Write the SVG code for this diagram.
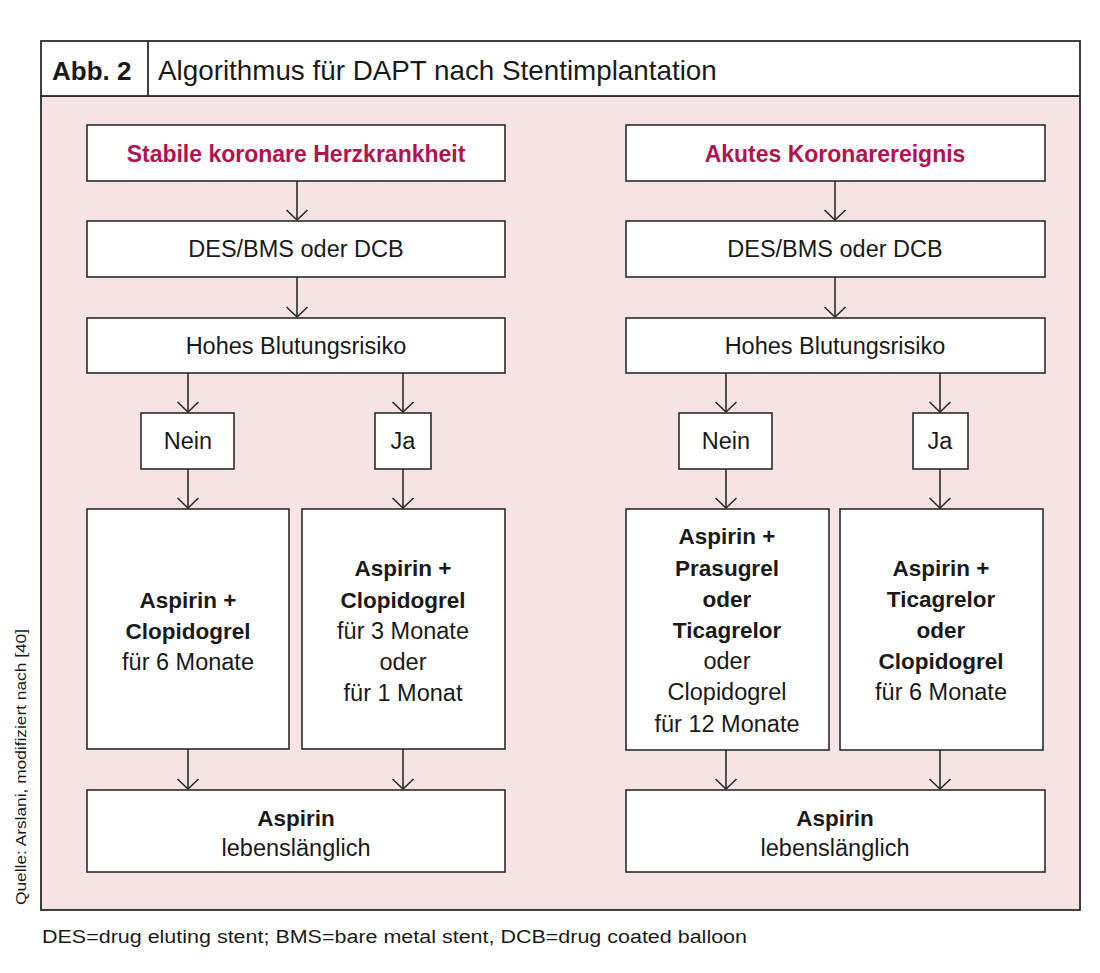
<svg xmlns="http://www.w3.org/2000/svg" width="1100" height="973" viewBox="0 0 1100 973">
<defs>
<style>
.box{fill:#fff;stroke:#2b2b2b;stroke-width:1.6}
.frame{stroke:#2b2b2b;stroke-width:1.8}
.t{font-family:"Liberation Sans",Arial,sans-serif;font-size:23.5px;fill:#1a1a1a;text-anchor:middle}
.b{font-weight:bold;font-size:22.5px}
.h{font-family:"Liberation Sans",Arial,sans-serif;font-size:23px;font-weight:bold;fill:#b3124f;text-anchor:middle}
.c line{stroke:#2b2b2b;stroke-width:1.6;fill:none}
</style>
<marker id="ah" viewBox="0 0 12 24" refX="11" refY="12" markerWidth="12" markerHeight="24" markerUnits="userSpaceOnUse" orient="auto">
<polyline points="1,1.5 11,12 1,22.5" fill="none" stroke="#2b2b2b" stroke-width="1.6"/>
</marker>
</defs>
<rect width="1100" height="973" fill="#fff"/>
<g id="frame">
<rect x="41" y="96" width="1039" height="814" fill="#f6e4e5" class="frame"/>
<rect x="41" y="41" width="1039" height="55" fill="#fff" class="frame"/>
<line x1="148" y1="41" x2="148" y2="96" class="frame"/>
<text x="52" y="80" font-family="Liberation Sans,Arial,sans-serif" font-size="26" font-weight="bold" fill="#1a1a1a">Abb. 2</text>
<text x="158" y="80" font-family="Liberation Sans,Arial,sans-serif" font-size="27.8" fill="#1a1a1a">Algorithmus für DAPT nach Stentimplantation</text>
</g>
<g class="c" id="connectors">
<line x1="297" y1="181" x2="297" y2="220" marker-end="url(#ah)"/>
<line x1="297" y1="277" x2="297" y2="317" marker-end="url(#ah)"/>
<line x1="188" y1="373" x2="188" y2="412" marker-end="url(#ah)"/>
<line x1="403" y1="373" x2="403" y2="412" marker-end="url(#ah)"/>
<line x1="188" y1="469" x2="188" y2="508" marker-end="url(#ah)"/>
<line x1="403" y1="469" x2="403" y2="508" marker-end="url(#ah)"/>
<line x1="188" y1="749" x2="188" y2="789" marker-end="url(#ah)"/>
<line x1="403" y1="749" x2="403" y2="789" marker-end="url(#ah)"/>
<line x1="835" y1="181" x2="835" y2="220" marker-end="url(#ah)"/>
<line x1="835" y1="277" x2="835" y2="317" marker-end="url(#ah)"/>
<line x1="726" y1="373" x2="726" y2="412" marker-end="url(#ah)"/>
<line x1="940" y1="373" x2="940" y2="412" marker-end="url(#ah)"/>
<line x1="726" y1="469" x2="726" y2="508" marker-end="url(#ah)"/>
<line x1="940" y1="469" x2="940" y2="508" marker-end="url(#ah)"/>
<line x1="726" y1="750" x2="726" y2="789" marker-end="url(#ah)"/>
<line x1="940" y1="750" x2="940" y2="789" marker-end="url(#ah)"/>
</g>
<g id="l-start"><rect class="box" x="87" y="125" width="418" height="56"/><text class="h" x="296" y="162">Stabile koronare Herzkrankheit</text></g>
<g id="l-stent"><rect class="box" x="87" y="221" width="418" height="56"/><text class="t" x="296" y="257">DES/BMS oder DCB</text></g>
<g id="l-risk"><rect class="box" x="87" y="318" width="418" height="55"/><text class="t" x="296" y="354">Hohes Blutungsrisiko</text></g>
<g id="l-nein"><rect class="box" x="141" y="413" width="93" height="56"/><text class="t" x="188" y="449">Nein</text></g>
<g id="l-ja"><rect class="box" x="375" y="413" width="56" height="56"/><text class="t" x="403" y="449">Ja</text></g>
<g id="l-nein-therapy"><rect class="box" x="87" y="509" width="202" height="240"/>
<text class="t b" x="188" y="608">Aspirin +</text><text class="t b" x="188" y="639">Clopidogrel</text><text class="t" x="188" y="670">für 6 Monate</text></g>
<g id="l-ja-therapy"><rect class="box" x="302" y="509" width="203" height="240"/>
<text class="t b" x="403" y="576">Aspirin +</text><text class="t b" x="403" y="608">Clopidogrel</text><text class="t" x="403" y="639">für 3 Monate</text><text class="t" x="403" y="670">oder</text><text class="t" x="403" y="701">für 1 Monat</text></g>
<g id="l-end"><rect class="box" x="87" y="790" width="418" height="82"/><text class="t b" x="296" y="826">Aspirin</text><text class="t" x="296" y="856">lebenslänglich</text></g>
<g id="r-start"><rect class="box" x="626" y="125" width="419" height="56"/><text class="h" x="835" y="162">Akutes Koronarereignis</text></g>
<g id="r-stent"><rect class="box" x="626" y="221" width="419" height="56"/><text class="t" x="835" y="257">DES/BMS oder DCB</text></g>
<g id="r-risk"><rect class="box" x="626" y="318" width="419" height="55"/><text class="t" x="835" y="354">Hohes Blutungsrisiko</text></g>
<g id="r-nein"><rect class="box" x="679" y="413" width="93" height="56"/><text class="t" x="726" y="449">Nein</text></g>
<g id="r-ja"><rect class="box" x="913" y="413" width="55" height="56"/><text class="t" x="940" y="449">Ja</text></g>
<g id="r-nein-therapy"><rect class="box" x="626" y="509" width="203" height="241"/>
<text class="t b" x="727" y="544">Aspirin +</text><text class="t b" x="727" y="576">Prasugrel</text><text class="t b" x="727" y="607">oder</text><text class="t b" x="727" y="638">Ticagrelor</text><text class="t" x="727" y="669">oder</text><text class="t" x="727" y="700">Clopidogrel</text><text class="t" x="727" y="732">für 12 Monate</text></g>
<g id="r-ja-therapy"><rect class="box" x="840" y="509" width="203" height="241"/>
<text class="t b" x="941" y="576">Aspirin +</text><text class="t b" x="941" y="607">Ticagrelor</text><text class="t b" x="941" y="638">oder</text><text class="t b" x="941" y="669">Clopidogrel</text><text class="t" x="941" y="700">für 6 Monate</text></g>
<g id="r-end"><rect class="box" x="626" y="790" width="419" height="82"/><text class="t b" x="835" y="826">Aspirin</text><text class="t" x="835" y="856">lebenslänglich</text></g>
<text x="42" y="943" font-family="Liberation Sans,Arial,sans-serif" font-size="18" fill="#1a1a1a" textLength="705" lengthAdjust="spacingAndGlyphs">DES=drug eluting stent; BMS=bare metal stent, DCB=drug coated balloon</text>
<text transform="translate(26,905) rotate(-90)" font-family="Liberation Sans,Arial,sans-serif" font-size="15" fill="#1a1a1a" textLength="276" lengthAdjust="spacingAndGlyphs">Quelle: Arslani, modifiziert nach [40]</text>
</svg>
